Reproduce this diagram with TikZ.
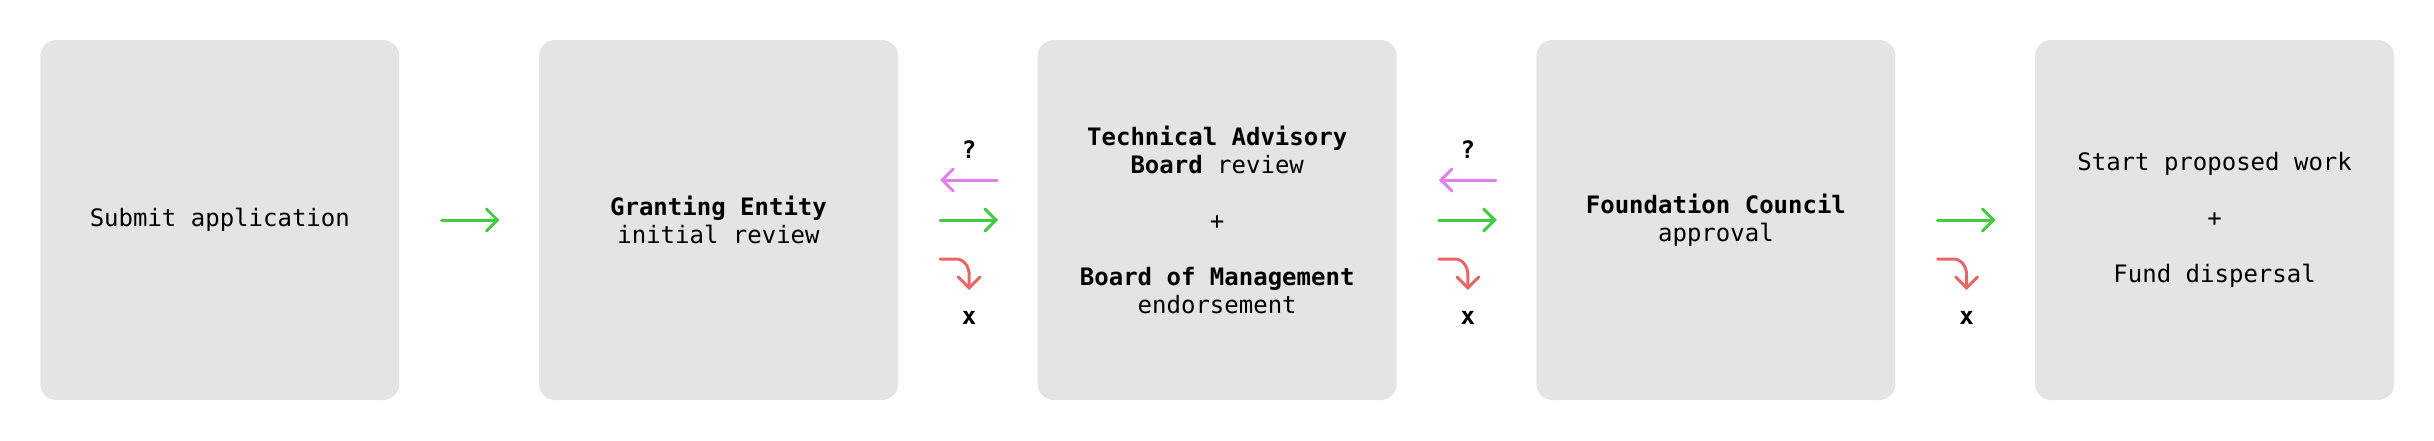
\documentclass[tikz,border=0pt]{standalone}
\usepackage{fontspec}
\setmonofont{DejaVu Sans Mono}
\usetikzlibrary{arrows.meta}
\definecolor{boxgray}{RGB}{228,228,228}
\definecolor{okgreen}{RGB}{66,204,66}
\definecolor{askpink}{RGB}{226,128,240}
\definecolor{rejred}{RGB}{232,102,102}
\tikzset{
  stage/.style={fill=boxgray, rounded corners=16pt, minimum width=359pt, minimum height=360pt,
    inner sep=0pt, align=center, font=\ttfamily\fontsize{24}{28}\selectfont, text=black},
  arr/.style={line width=3pt, line cap=round, -{Straight Barb[length=11pt,width=22pt,line cap=round,line width=3pt]}},
  fwd/.style={arr, draw=okgreen},
  back/.style={arr, draw=askpink},
  rej/.style={arr, draw=rejred},
  mark label/.style={font=\ttfamily\bfseries\fontsize{24}{28}\selectfont, inner sep=0pt}
}
\begin{document}
\begin{tikzpicture}[x=1pt,y=-1pt]
\useasboundingbox (0,0) rectangle (2434,440);
\node[stage] (s1) at (219.8,220) {Submit application};
\node[stage] (s2) at (718.5,220) {\textbf{Granting Entity}\\initial review};
\node[stage] (s3) at (1217.2,220) {\textbf{Technical Advisory}\\\textbf{Board} review\\[28pt]+\\[28pt]\textbf{Board of Management}\\endorsement};
\node[stage] (s4) at (1715.9,220) {\textbf{Foundation Council}\\approval};
\node[stage] (s5) at (2214.6,220) {Start proposed work\\[28pt]+\\[28pt]Fund dispersal};

% gap 1
\coordinate (g1a) at ([xshift=42pt]s1.east);
\coordinate (g1b) at ([xshift=100pt]s1.east);
\draw[fwd] (g1a) -- (g1b);

% gaps 2..4
\foreach \i/\p in {2/s2,3/s3,4/s4}{
  \coordinate (fa\i) at ([xshift=42pt]\p.east);
  \coordinate (fb\i) at ([xshift=100pt]\p.east);
  \coordinate (ra\i) at ([xshift=42pt,yshift=-39pt]\p.east);
  \coordinate (rb\i) at ([xshift=71pt,yshift=-70pt]\p.east);
  \node[mark label] (x\i) at ([xshift=71pt,yshift=-98pt]\p.east) {x};
  \draw[fwd] (fa\i) -- (fb\i);
  \draw[rej] (ra\i) -- ++(16,0) to[out=0,in=90] ([yshift=-16pt]rb\i |- ra\i) -- (rb\i);
}
\foreach \i/\p in {2/s2,3/s3}{
  \coordinate (pa\i) at ([xshift=99pt,yshift=40pt]\p.east);
  \coordinate (pb\i) at ([xshift=42pt,yshift=40pt]\p.east);
  \node[mark label] (q\i) at ([xshift=71pt,yshift=70pt]\p.east) {?};
  \draw[back] (pa\i) -- (pb\i);
}
\end{tikzpicture}
\end{document}
